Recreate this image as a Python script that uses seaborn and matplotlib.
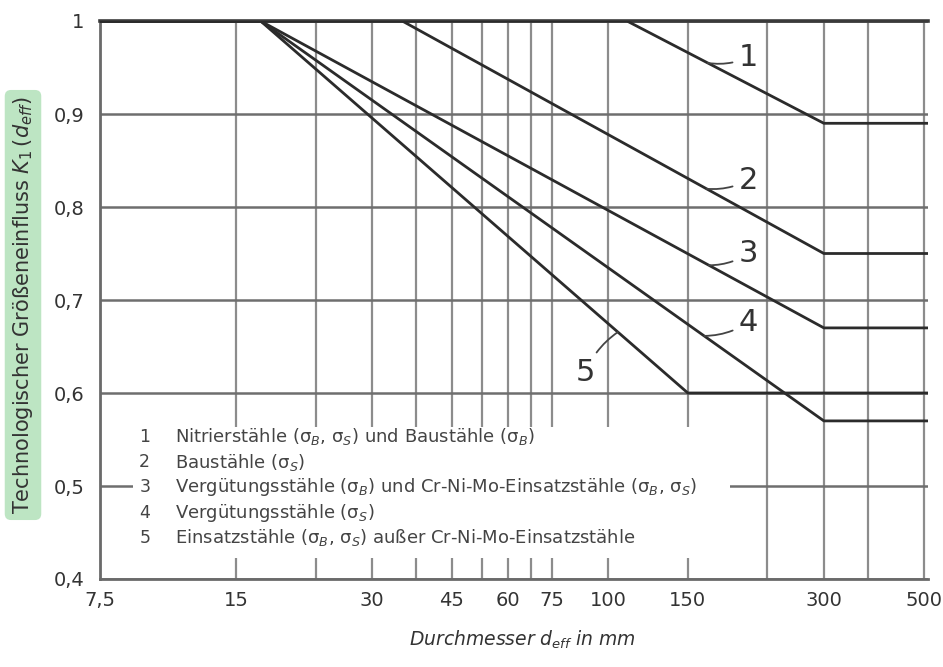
import numpy as np
import pandas as pd
import seaborn as sns
import matplotlib
matplotlib.use("Agg")
import matplotlib.pyplot as plt
from matplotlib.patches import Rectangle
from matplotlib.ticker import NullFormatter

# --- Kennlinien K1(d_eff) nach Werkstoffgruppe -------------------------------
KURVEN = ["1", "2", "3", "4", "5"]
D_START = 7.5                                  # linker Rand der Abszisse, mm
D_ENDE = 510.0                                 # rechter Rand der Abszisse, mm
D_KNICK_OBEN = [110.0, 35.0, 17.0, 17.0, 17.0]  # ab hier fällt K1 unter 1
D_KNICK_UNTEN = [300.0, 300.0, 300.0, 300.0, 150.0]  # ab hier K1 konstant
K1_MIN = [0.89, 0.75, 0.67, 0.57, 0.60]

# Achsenteilung
X_TICKS = [7.5, 15, 30, 45, 60, 75, 100, 150, 300, 500]
X_TICK_LABELS = ["7,5", "15", "30", "45", "60", "75", "100", "150", "300", "500"]
X_GRID_ZWISCHEN = [22.5, 37.5, 52.5, 67.5, 225, 375]
Y_TICKS = [0.4, 0.5, 0.6, 0.7, 0.8, 0.9, 1.0]
Y_TICK_LABELS = ["0,4", "0,5", "0,6", "0,7", "0,8", "0,9", "1"]

LEGENDE = [
    "Nitrierstähle (σ$_B$, σ$_S$) und Baustähle (σ$_B$)",
    "Baustähle (σ$_S$)",
    "Vergütungsstähle (σ$_B$) und Cr-Ni-Mo-Einsatzstähle (σ$_B$, σ$_S$)",
    "Vergütungsstähle (σ$_S$)",
    "Einsatzstähle (σ$_B$, σ$_S$) außer Cr-Ni-Mo-Einsatzstähle",
]

# Lage der Kurvennummern (d, K1) und Stelle auf der Kurve, auf die der Strich zeigt
NUMMER_POS = [(204, 0.961), (204, 0.829), (204, 0.750), (204, 0.676), (89, 0.622)]
NUMMER_ZIEL_D = [166, 165, 167, 163, 105]

# --- Tabelle aufbauen ------------------------------------------------------------
zeilen = []
for k, d1, d2, kmin in zip(KURVEN, D_KNICK_OBEN, D_KNICK_UNTEN, K1_MIN):
    for d, kv in [(D_START, 1.0), (d1, 1.0), (d2, kmin), (D_ENDE, kmin)]:
        zeilen.append({"Kurve": k, "d": d, "K1": kv})
df = pd.DataFrame(zeilen)

# --- Darstellung -----------------------------------------------------------------
sns.set_theme(style="white")
plt.rcParams["font.family"] = ["DejaVu Sans"]
plt.rcParams["mathtext.fontset"] = "dejavusans"

fig = plt.figure(figsize=(9.43, 6.67), dpi=100)
ax = fig.add_axes([100 / 943, 88 / 667, 828 / 943, 558 / 667])
ax.set_xscale("log")
ax.set_axisbelow(True)

sns.lineplot(data=df, x="d", y="K1", units="Kurve", estimator=None, sort=False,
             color="#2b2b2b", linewidth=2.0, ax=ax, zorder=3)

ax.set_xlim(D_START, D_ENDE)
ax.set_ylim(0.4, 1.0)

ax.set_xticks(X_TICKS)
ax.set_xticklabels(X_TICK_LABELS)
ax.set_xticks(X_GRID_ZWISCHEN, minor=True)
ax.xaxis.set_minor_formatter(NullFormatter())
ax.set_yticks(Y_TICKS)
ax.set_yticklabels(Y_TICK_LABELS)

ax.grid(True, which="both", axis="x", color="#8c8c8c", linewidth=1.6)
ax.grid(True, which="major", axis="y", color="#6e6e6e", linewidth=1.8)
ax.tick_params(which="both", length=0, labelsize=14, labelcolor="#333333")
ax.tick_params(axis="y", pad=11)
ax.tick_params(axis="x", pad=9)
ax.set_xlabel("")
ax.set_ylabel("")

ax.spines["right"].set_visible(False)
ax.spines["top"].set_color("#3a3a3a")
ax.spines["top"].set_linewidth(2.6)
for side in ["left", "bottom"]:
    ax.spines[side].set_color("#6a6a6a")
    ax.spines[side].set_linewidth(2.0)

# freie Fläche für die Legende
ax.add_patch(Rectangle((0.040, 0.038), 0.721, 0.234, transform=ax.transAxes,
                       facecolor="white", edgecolor="none", zorder=1))

y0, dy = 0.2545, -0.0452
for i, (k, txt) in enumerate(zip(KURVEN, LEGENDE)):
    yy = y0 + i * dy
    ax.text(0.054, yy, k, transform=ax.transAxes, ha="center", va="center",
            fontsize=12.5, color="#444444", zorder=4)
    ax.text(0.0906, yy, txt, transform=ax.transAxes, ha="left", va="center",
            fontsize=13, color="#444444", zorder=4)

# Kurvennummern mit Hinweisstrich
for k, (px, py), dz in zip(KURVEN, NUMMER_POS, NUMMER_ZIEL_D):
    sub = df[df["Kurve"] == k]
    kz = np.interp(np.log10(dz), np.log10(sub["d"].to_numpy()), sub["K1"].to_numpy())
    ax.annotate(k, xy=(dz, kz), xytext=(px, py), ha="center", va="center",
                fontsize=22, color="#333333", zorder=5,
                arrowprops=dict(arrowstyle="-", color="#444444", lw=1.3,
                                shrinkA=2, shrinkB=0,
                                connectionstyle="arc3,rad=-0.15"))

# Achsbeschriftungen
fig.text(522 / 943, 1 - 640 / 667, "Durchmesser $d_{eff}$ in mm", ha="center",
         va="center", fontsize=13.5, style="italic", color="#333333")
fig.text(23 / 943, 1 - 305 / 667, "Technologischer Größeneinfluss $K_1\\,(d_{eff})$",
         rotation=90, ha="center", va="center", fontsize=15, color="#333333",
         bbox=dict(boxstyle="round,pad=0.3", facecolor="#bde5c3",
                   edgecolor="none"))

fig.savefig("out.png", dpi=100, facecolor="white")
